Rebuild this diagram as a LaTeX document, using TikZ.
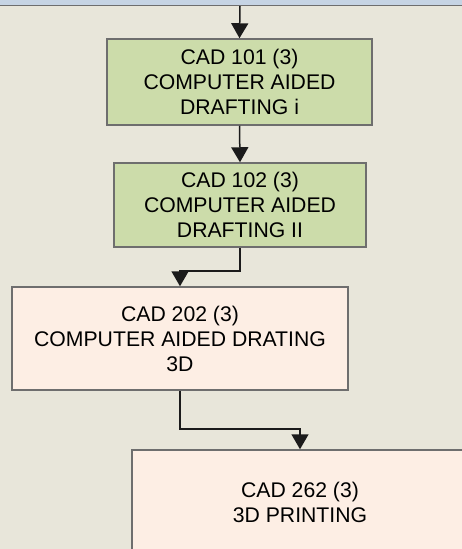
\documentclass[tikz,border=0pt]{standalone}
\usepackage{fontspec}
\setmainfont{Liberation Sans}
\usetikzlibrary{arrows.meta}
\definecolor{bgc}{HTML}{E8E6DA}
\definecolor{topc}{HTML}{C6D4E4}
\definecolor{greenc}{HTML}{CCDCAA}
\definecolor{peachc}{HTML}{FDEEE4}
\definecolor{linec}{HTML}{6E6E6E}
\tikzset{
  box/.style={draw=linec, line width=1.5pt, rectangle, align=center,
    font=\fontsize{21.2}{25}\selectfont, inner sep=0pt},
  greenbox/.style={box, fill=greenc},
  peachbox/.style={box, fill=peachc},
  conn/.style={draw=black!75!linec, line width=1.5pt, -{Triangle[width=17pt,length=15pt]}}
}
\begin{document}
\begin{tikzpicture}[x=1pt,y=-1pt]
\useasboundingbox (0,0) rectangle (462,549);
\fill[bgc] (0,0) rectangle (462,549);
\fill[topc] (0,0) rectangle (462,5.5);
\draw[linec, line width=1.5pt] (0,5.5) -- (462,5.5);
\coordinate (top) at (240,6);
\begin{scope}
\clip (0,0) rectangle (462,549);
\node[greenbox, minimum width=265pt, minimum height=86pt] (b1) at (239.5,82) {CAD 101 (3)\\COMPUTER AIDED\\DRAFTING i};
\node[greenbox, minimum width=252pt, minimum height=84pt] (b2) at (240,205) {CAD 102 (3)\\COMPUTER AIDED\\DRAFTING II};
\node[peachbox, minimum width=336pt, minimum height=103pt] (b3) at (180,338.5) {CAD 202 (3)\\COMPUTER AIDED DRATING\\3D};
\node[peachbox, minimum width=336pt, minimum height=104pt] (b4) at (300,502) {CAD 262 (3)\\3D PRINTING};
\end{scope}
\draw[conn] (top) -- (b1.north);
\draw[conn] (b1.south) -- (b2.north);
\draw[conn] (b2.south) -- ++(0,23) -| (b3.north);
\draw[conn] (b3.south) -- ++(0,38) -| (b4.north);
\end{tikzpicture}
\end{document}
